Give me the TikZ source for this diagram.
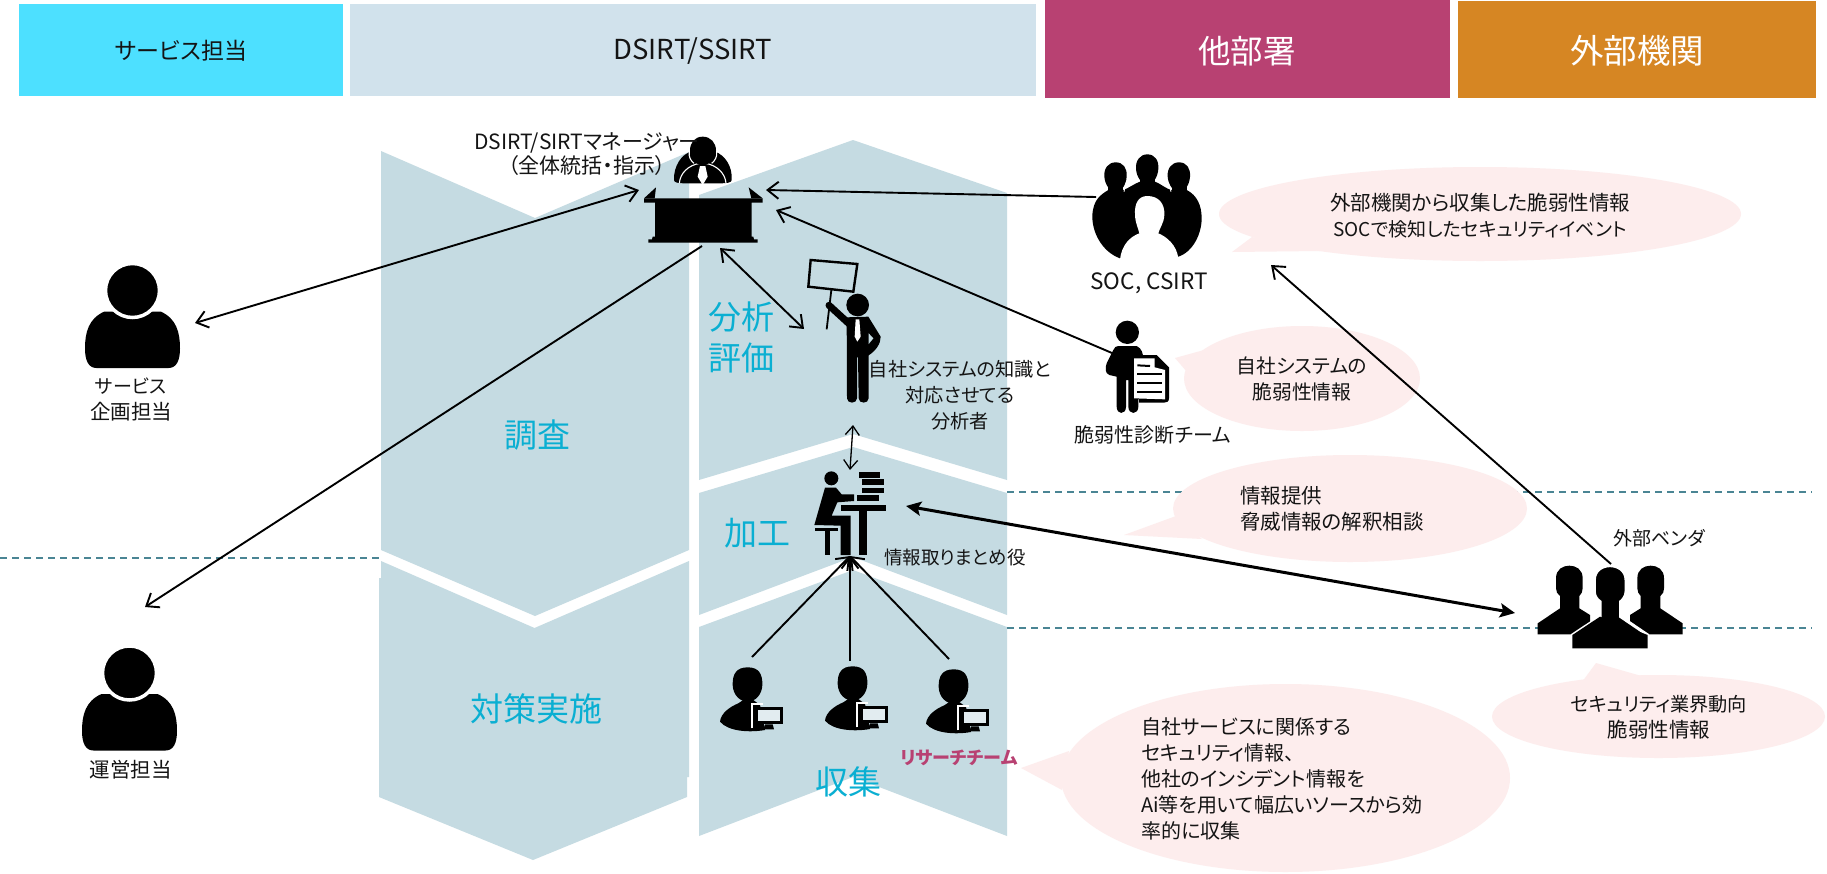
\documentclass[tikz,border=0pt]{standalone}
\usepackage{fontspec}
\setmainfont{Noto Sans CJK JP}[RawFeature=+palt]
\usetikzlibrary{arrows.meta}
\definecolor{hcyan}{HTML}{4DE0FF}
\definecolor{hpale}{HTML}{D1E2EC}
\definecolor{hrose}{HTML}{B84172}
\definecolor{horange}{HTML}{D68623}
\definecolor{chev}{HTML}{C5DBE2}
\definecolor{phase}{HTML}{0AAFD2}
\definecolor{bubcol}{HTML}{FDEDED}
\definecolor{dashcol}{HTML}{4A8594}
\definecolor{screen}{HTML}{E2ECF0}
\tikzset{
  hdr/.style={inner sep=0,outer sep=0,anchor=north west},
  chevron/.style={fill=chev},
  bub/.style={fill=bubcol},
  sep/.style={draw=dashcol,line width=1.8pt,dash pattern=on 7pt off 5pt},
  txt/.style={inner sep=0,align=center,text=black!92,font=\fontsize{20.5}{26}\selectfont},
  ltxt/.style={txt,align=left},
  phasetxt/.style={inner sep=0,align=center,text=phase,font=\fontsize{33}{41}\selectfont},
  open/.style={line width=1.9pt,black},
  barb/.tip={Straight Barb[length=11pt,width=17pt,line width=1.9pt]},
  solidtip/.tip={Stealth[length=15pt,width=14pt,inset=3pt]},
  pics/personicon/.style={code={
    \fill (-36,77.5) -- (36,77.5) .. controls (44,77.5) and (47.5,70) .. (47.5,58)
       .. controls (47.5,42) and (44,28) .. (28,21) -- (-28,21)
       .. controls (-44,28) and (-47.5,42) .. (-47.5,58)
       .. controls (-47.5,70) and (-44,77.5) .. (-36,77.5) -- cycle;
    \filldraw[draw=white,line width=3.5pt,fill=black] (0,0) ellipse [x radius=27,y radius=27];
  }},
  pics/researcher/.style={code={
    \begin{scope}[scale=1/3]
      \fill (60,845) .. controls (62,820) and (90,800) .. (115,790) -- (130,780) -- (160,780)
        -- (180,795) -- (195,870) .. controls (150,878) and (85,875) .. (60,845) -- cycle;
      \fill (143,682) .. controls (175,682) and (188,700) .. (187,735)
        .. controls (186,765) and (165,785) .. (143,785)
        .. controls (120,785) and (99,765) .. (98,735)
        .. controls (97,700) and (111,682) .. (143,682) -- cycle;
      \draw[white,line width=1.8pt] (157,865) -- (157,792) -- (190,792);
      \fill (165,800) rectangle (248,853);
      \fill[screen] (175,810) rectangle (239,843);
      \fill (195,853) -- (218,853) -- (222,868) -- (190,868) -- cycle;
    \end{scope}
  }},
}
\begin{document}
\begin{tikzpicture}[x=1pt,y=-1pt]
\path[use as bounding box,fill=white] (0,0) rectangle (1827,873);

% column headers
\node[hdr,fill=hcyan,minimum width=324pt,minimum height=91.5pt] (h1) at (19,4) {};
\node[hdr,fill=hpale,minimum width=686pt,minimum height=91.5pt] (h2) at (350,4) {};
\node[hdr,fill=hrose,minimum width=405pt,minimum height=98pt] (h3) at (1045,0) {};
\node[hdr,fill=horange,minimum width=358pt,minimum height=97pt] (h4) at (1458,1) {};
\node[txt,font=\fontsize{23}{28}\selectfont] (t1) at (181,51) {サービス担当};
\node[txt,font=\fontsize{27.5}{32}\selectfont] (t2) at (693,51) {DSIRT/SSIRT};
\node[txt,text=white,font=\fontsize{32.5}{38}\selectfont] (t3) at (1247,51) {他部署};
\node[txt,text=white,font=\fontsize{33.5}{38}\selectfont] (t4) at (1637,51) {外部機関};

% chevrons
\fill[chevron] (381,151) -- (535,218) -- (689,152) -- (689,550) -- (535,616) -- (381,550) -- cycle;
\fill[chevron] (381,561) -- (534.5,628) -- (689,561) -- (689,777) -- (687,777) -- (687,797)
   -- (533,860) -- (379,797) -- (379,578) -- (381,578) -- cycle;
\fill[chevron] (699,195) -- (853,140) -- (1007,193) -- (1007,480) -- (853,434) -- (699,480) -- cycle;
\fill[chevron] (699,493) -- (853,447) -- (1007,493) -- (1007,615) -- (853,557) -- (699,615) -- cycle;
\fill[chevron] (699,627) -- (853,570) -- (1007,627) -- (1007,836) -- (853,777) -- (699,836) -- cycle;

% dashed separators
\coordinate (d1a) at (0,558); \coordinate (d1b) at (381,558);
\coordinate (d2a) at (1007,492); \coordinate (d2b) at (1812,492);
\coordinate (d3a) at (1007,628); \coordinate (d3b) at (1812,628);
\draw[sep] (d1a) -- (d1b);
\draw[sep] (d2a) -- (d2b);
\draw[sep] (d3a) -- (d3b);

% speech bubbles
\fill[bub] (1480,214) ellipse [x radius=261,y radius=47];
\fill[bub] (1232,252) -- (1252,237) -- (1320,251) -- cycle;
\fill[bub] (1302,378.5) ellipse [x radius=118,y radius=52.5];
\fill[bub] (1175,358) -- (1204,350) -- (1187,372) -- cycle;
\fill[bub] (1350,508.5) ellipse [x radius=177,y radius=53.5];
\fill[bub] (1124,535) -- (1176,516) -- (1202,539) -- cycle;
\fill[bub] (1285.5,778) ellipse [x radius=224.5,y radius=94];
\fill[bub] (1021,768) -- (1069,751) -- (1062,790) -- cycle;
\fill[bub] (1658.5,716.5) ellipse [x radius=166.5,y radius=41.5];
\fill[bub] (1596,663) -- (1582,682) -- (1645,677) -- cycle;

% service planner and operator
\pic at (132.5,290.5) {personicon};
\pic at (129.5,673) {personicon};

% manager at desk
\begin{scope}[shift={(620,120)},scale=1/3]
  \fill (162,180) .. controls (160,140) and (185,100) .. (215,95) -- (285,95)
     .. controls (315,105) and (338,140) .. (335,180)
     .. controls (335,188) and (320,190) .. (300,190) -- (195,190)
     .. controls (175,190) and (162,188) .. (162,180) -- cycle;
  \draw[white,line width=1.1pt] (178,190) .. controls (180,160) and (205,135) .. (240,130);
  \draw[white,line width=1.1pt] (318,190) .. controls (316,160) and (290,135) .. (256,130);
  \draw[white,line width=1.1pt] (208,96) .. controls (205,110) and (212,122) .. (222,130);
  \draw[white,line width=1.1pt] (290,96) .. controls (292,110) and (285,122) .. (275,130);
  \fill (248,50) .. controls (272,50) and (288,68) .. (288,92) .. controls (288,115) and (270,135) .. (248,135)
     .. controls (226,135) and (210,115) .. (210,92) .. controls (210,68) and (224,50) .. (248,50) -- cycle;
  \fill[white] (240,138) -- (256,138) -- (263,170) -- (248,195) -- (233,170) -- cycle;
  \fill (72,235) -- (428,235) -- (428,248) -- (395,248) -- (395,350) -- (400,350) -- (402,358)
     -- (413,358) -- (413,368) -- (85,368) -- (85,358) -- (96,358) -- (98,350) -- (105,350)
     -- (105,248) -- (72,248) -- cycle;
  \fill (72,235) -- (108,202) -- (104,235) -- cycle;
  \fill (428,235) -- (386,202) -- (394,235) -- cycle;
\end{scope}

% analyst with sign
\begin{scope}[shift={(620,120)},scale=1/3]
  \draw[line width=2.4pt,black] (572,420) -- (712,432) -- (700,515) -- (565,500) -- cycle;
  \draw[line width=1.8pt,black] (634,510) -- (620,628);
  \fill (713,555) circle [radius=34];
  \draw[line width=7pt,line cap=round,black] (627,556) -- (688,612);
  \fill (680,592) -- (745,590) -- (782,650) .. controls (782,670) and (770,690) .. (746,706)
     -- (746,835) .. controls (746,852) and (716,852) .. (716,835) -- (714,712) -- (711,712) -- (711,835)
     .. controls (711,852) and (681,852) .. (681,835) -- cycle;
  \fill[chev] (746,640) -- (760,655) -- (746,672) -- cycle;
  \fill[white] (707,598) -- (718,598) -- (722,650) -- (712,665) -- (704,650) -- cycle;
\end{scope}

% information organiser
\begin{scope}[shift={(700,440)},scale=1/3]
  \fill (394,115) circle [radius=21];
  \fill (375,143) -- (408,143) -- (425,163) -- (462,163) -- (462,183) -- (412,187) -- (395,227)
     -- (452,227) -- (452,345) -- (422,345) -- (422,257) -- (343,255) -- cycle;
  \fill (345,265) rectangle (415,273);
  \fill (375,273) rectangle (390,345);
  \fill (422,195) rectangle (558,213);
  \fill (478,213) rectangle (502,345);
  \fill (476,96) rectangle (541,113);
  \fill (486,118) rectangle (551,135);
  \fill (486,143) rectangle (551,160);
  \fill (472,165) rectangle (538,183);
\end{scope}

% researchers
\pic at (700,440) {researcher};
\pic at (805,439) {researcher};
\pic at (906,442) {researcher};

% SOC / CSIRT group
\begin{scope}[shift={(1060,140)},scale=1/3]
  \fill (180,355) .. controls (125,335) and (95,275) .. (97,225) .. controls (100,180) and (120,165) .. (145,150)
     -- (190,150) .. controls (205,145) and (225,130) .. (240,125) -- (285,125)
     .. controls (300,130) and (320,148) .. (335,150) -- (380,150)
     .. controls (410,165) and (425,195) .. (425,235) .. controls (425,280) and (400,335) .. (355,350) -- cycle;
  \fill (167,67) .. controls (190,67) and (202,85) .. (200,110) .. controls (198,135) and (185,155) .. (167,155)
     .. controls (150,155) and (135,135) .. (133,110) .. controls (131,85) and (145,67) .. (167,67) -- cycle;
  \fill (357,67) .. controls (380,67) and (392,85) .. (390,110) .. controls (388,135) and (375,155) .. (357,155)
     .. controls (340,155) and (325,135) .. (323,110) .. controls (321,85) and (335,67) .. (357,67) -- cycle;
  \fill (262,43) .. controls (285,43) and (297,62) .. (295,87) .. controls (293,112) and (280,132) .. (262,132)
     .. controls (245,132) and (230,112) .. (228,87) .. controls (226,62) and (240,43) .. (262,43) -- cycle;
  \fill (145,120) rectangle (190,160);
  \fill (335,120) rectangle (380,160);
  \fill (240,100) rectangle (285,135);
  \draw[white,line width=0.9pt] (198,128) -- (192,155);
  \draw[white,line width=0.9pt] (325,128) -- (333,155);
  \fill[white] (262,168) .. controls (295,168) and (315,190) .. (313,225) .. controls (312,250) and (298,265) .. (295,280)
     .. controls (320,290) and (350,315) .. (355,355) -- (180,358) .. controls (185,315) and (210,290) .. (238,280)
     .. controls (235,265) and (226,250) .. (225,225) .. controls (223,190) and (235,168) .. (262,168) -- cycle;
\end{scope}

% vulnerability assessment team
\begin{scope}[shift={(1060,140)},scale=1/3]
  \fill (202,577) circle [radius=35];
  \fill (175,618) -- (230,618) .. controls (245,625) and (250,640) .. (250,660) -- (235,660) -- (235,800)
     .. controls (235,825) and (205,825) .. (205,800) -- (205,720) -- (198,720) -- (198,800)
     .. controls (198,825) and (170,825) .. (170,800) -- (170,710) -- (148,705)
     .. controls (135,700) and (135,685) .. (140,670) -- (160,630) .. controls (163,622) and (168,618) .. (175,618) -- cycle;
  \fill (222,645) -- (290,645) -- (327,682) -- (327,775) .. controls (327,785) and (320,788) .. (312,788)
     -- (237,788) -- (237,778) -- (222,778) -- cycle;
  \fill[white] (222,655) -- (284,655) -- (284,682) -- (315,690) -- (315,778) -- (222,775) -- cycle;
  \draw[line width=2pt,black] (232,676) -- (270,678);
  \draw[line width=2pt,black] (232,703) -- (305,703);
  \draw[line width=2pt,black] (232,730) -- (305,730);
  \draw[line width=2pt,black] (232,757) -- (305,757);
\end{scope}

% external vendor group
\begin{scope}[shift={(1500,520)},scale=1/3]
  \fill (113,343) -- (113,310) -- (180,265) -- (180,228) .. controls (172,222) and (168,215) .. (168,205)
     -- (168,175) .. controls (168,148) and (188,137) .. (208,137) .. controls (228,137) and (248,148) .. (248,175)
     -- (248,205) .. controls (248,215) and (244,222) .. (238,228) -- (238,265) -- (270,285) -- (270,343) -- cycle;
  \fill (548,343) -- (548,310) -- (481,265) -- (481,228) .. controls (489,222) and (492,215) .. (492,205)
     -- (492,175) .. controls (492,148) and (472,137) .. (452,137) .. controls (432,137) and (412,148) .. (412,175)
     -- (412,205) .. controls (412,215) and (416,222) .. (422,228) -- (422,265) -- (390,285) -- (390,343) -- cycle;
  \filldraw[draw=white,line width=3pt,fill=black] (217,385) -- (217,345) -- (300,290) -- (300,245)
     .. controls (290,238) and (283,228) .. (283,215) -- (283,180) .. controls (283,150) and (308,137) .. (330,137)
     .. controls (352,137) and (378,150) .. (378,180) -- (378,215) .. controls (378,228) and (370,238) .. (362,245)
     -- (362,290) -- (443,345) -- (443,385) -- cycle;
  \fill[black] (217,385) -- (217,345) -- (300,290) -- (443,345) -- (443,385) -- cycle;
\end{scope}

% labels
\node[txt,font=\fontsize{21}{24}\selectfont] (mgrlabel) at (587,154) {DSIRT/SIRTマネージャー\\（全体統括・指示）};
\node[txt] (svclabel) at (131,399.5) {{\fontsize{19}{26}\selectfont サービス}\\企画担当};
\node[txt] (opslabel) at (130.5,770) {運営担当};
\node[phasetxt] (pinv) at (537,435) {調査};
\node[phasetxt] (pact) at (536,709) {対策実施};
\node[phasetxt] (pana) at (741,337.5) {分析\\評価};
\node[phasetxt] (pproc) at (757,533) {加工};
\node[phasetxt] (pcol) at (848.5,782) {収集};
\node[txt,font=\fontsize{19.2}{26}\selectfont] (analabel) at (960,395) {自社システムの知識と\\対応させてる\\分析者};
\node[txt,font=\fontsize{18.5}{22}\selectfont] (orglabel) at (955,557) {情報取りまとめ役};
\node[txt,text=hrose,font=\fontsize{18}{22}\selectfont\bfseries] (reslabel) at (959,758) {リサーチチーム};
\node[txt,font=\fontsize{22.5}{26}\selectfont] (soclabel) at (1149,283) {SOC, CSIRT};
\node[txt,font=\fontsize{20}{24}\selectfont] (vullabel) at (1153,435) {脆弱性診断チーム};
\node[txt,font=\fontsize{19}{24}\selectfont] (vendlabel) at (1659,538) {外部ベンダ};
\node[txt] (b1text) at (1480,215.5) {外部機関から収集した脆弱性情報\\{\fontsize{19}{26}\selectfont SOCで検知したセキュリティイベント}};
\node[txt,font=\fontsize{19.8}{26}\selectfont] (b2text) at (1302,378.5) {自社システムの\\脆弱性情報};
\node[ltxt] (b3text) at (1240,509) [anchor=west] {情報提供\\脅威情報の解釈相談};
\node[ltxt,font=\fontsize{20}{26}\selectfont] (b4text) at (1141,778.5) [anchor=west] {自社サービスに関係する\\セキュリティ情報、\\他社のインシデント情報を\\Ai等を用いて幅広いソースから効\\率的に収集};
\node[txt] (b5text) at (1659,717) {{\fontsize{19.2}{26}\selectfont セキュリティ業界動向}\\脆弱性情報};

% connector ends
\coordinate (svcEnd) at (195,323);
\coordinate (mgrW) at (639,190);
\coordinate (mgrS) at (702,246);
\coordinate (opsEnd) at (145,607);
\coordinate (socW) at (1096,197);
\coordinate (mgrE1) at (766,190);
\coordinate (vulW) at (1112,353);
\coordinate (mgrE2) at (776,210);
\coordinate (mgrS2) at (720,248);
\coordinate (anaW) at (804,329);
\coordinate (anaS) at (853,425);
\coordinate (orgN) at (850,470);
\coordinate (orgE) at (906,506);
\coordinate (vendW) at (1515,613);
\coordinate (vendN) at (1611,564);
\coordinate (socS) at (1271,265);
\coordinate (orgS) at (850,556);
\coordinate (res1) at (752,657);
\coordinate (res2) at (850,661);
\coordinate (res3) at (949,659);

% connectors
\draw[open,{barb}-{barb}] (svcEnd) -- (mgrW);
\draw[open,-{barb}] (mgrS) -- (opsEnd);
\draw[open,-{barb}] (socW) -- (mgrE1);
\draw[open,-{barb}] (vulW) -- (mgrE2);
\draw[open,{barb}-{barb}] (mgrS2) -- (anaW);
\draw[open,line width=1.3pt,{Straight Barb[length=9pt,width=14pt,line width=1.3pt]}-{Straight Barb[length=9pt,width=14pt,line width=1.3pt]}] (anaS) -- (orgN);
\draw[line width=3pt,black,{solidtip}-{solidtip}] (orgE) -- (vendW);
\draw[open,-{barb}] (vendN) -- (socS);
\draw[open,-{barb}] (res1) -- (orgS);
\draw[open,-{barb}] (res2) -- (orgS);
\draw[open,-{barb}] (res3) -- (orgS);
\end{tikzpicture}
\end{document}
